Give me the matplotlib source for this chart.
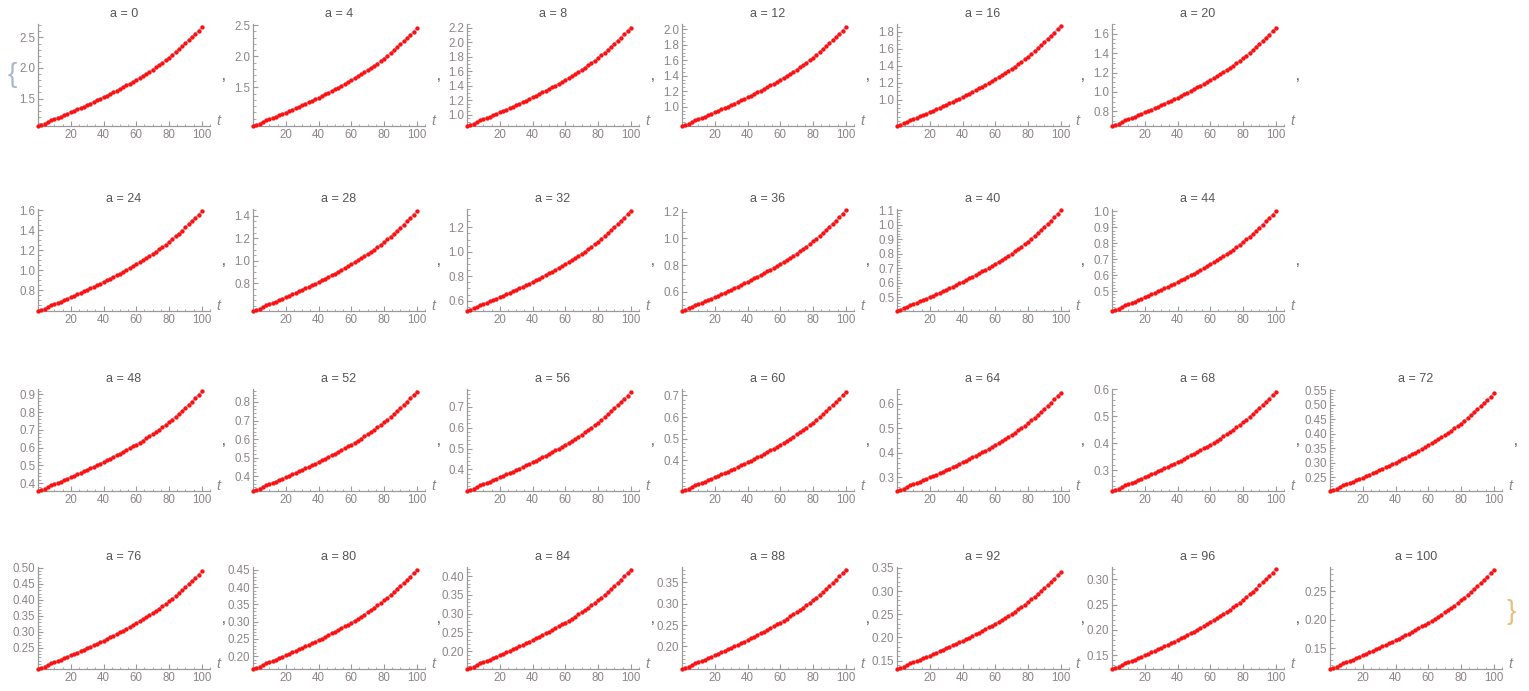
import numpy as np
import matplotlib
matplotlib.use('Agg')
import matplotlib.pyplot as plt
from matplotlib.ticker import MultipleLocator, FixedLocator

# panel parameter a and values
a_vals  = [0, 4, 8, 12, 16, 20, 24, 28, 32, 36, 40, 44, 48,
           52, 56, 60, 64, 68, 72, 76, 80, 84, 88, 92, 96, 100]
y_start = [1.05, 0.88, 0.845, 0.75, 0.69, 0.65, 0.594, 0.554, 0.515, 0.458, 0.404, 0.375, 0.356,
           0.32, 0.297, 0.258, 0.245, 0.223, 0.202, 0.184, 0.163, 0.153, 0.147, 0.132, 0.123, 0.1135]
y_end   = [2.67, 2.45, 2.20, 2.03, 1.87, 1.66, 1.59, 1.44, 1.335, 1.21, 1.10, 1.00, 0.916,
           0.856, 0.77, 0.716, 0.645, 0.59, 0.54, 0.49, 0.45, 0.417, 0.38, 0.341, 0.32, 0.288]
y_top   = [2.72, 2.52, 2.25, 2.07, 1.89, 1.70, 1.61, 1.46, 1.35, 1.22, 1.11, 1.015, 0.93,
           0.87, 0.785, 0.73, 0.66, 0.60, 0.555, 0.503, 0.458, 0.424, 0.386, 0.352, 0.324, 0.293]
# labelled y ticks: lowest, highest, step
tick_lo   = [1.5, 1.5, 1.0, 1.0, 1.0, 0.8, 0.8, 0.8, 0.6, 0.6, 0.5, 0.5, 0.4,
             0.4, 0.4, 0.4, 0.3, 0.3, 0.25, 0.25, 0.20, 0.20, 0.20, 0.15, 0.15, 0.15]
tick_hi   = [2.5, 2.5, 2.2, 2.0, 1.8, 1.6, 1.6, 1.4, 1.2, 1.2, 1.1, 1.0, 0.9,
             0.8, 0.7, 0.7, 0.6, 0.6, 0.55, 0.50, 0.45, 0.40, 0.35, 0.35, 0.30, 0.25]
tick_step = [0.5, 0.5, 0.2, 0.2, 0.2, 0.2, 0.2, 0.2, 0.2, 0.2, 0.1, 0.1, 0.1,
             0.1, 0.1, 0.1, 0.1, 0.1, 0.05, 0.05, 0.05, 0.05, 0.05, 0.05, 0.05, 0.05]

# sample times and the common rise (0 at t=0, 1 at t=100) read from the a = 0 panel
t_vals = np.arange(0, 101, 2)
profile = [0.000, 0.011, 0.025, 0.041, 0.058, 0.069,
           0.082, 0.095, 0.110, 0.124, 0.138,
           0.152, 0.167, 0.182, 0.197, 0.212,
           0.227, 0.243, 0.258, 0.274, 0.290,
           0.307, 0.324, 0.341, 0.358, 0.375,
           0.393, 0.411, 0.429, 0.448, 0.467,
           0.487, 0.507, 0.528, 0.549, 0.571,
           0.593, 0.616, 0.640, 0.665, 0.691,
           0.718, 0.746, 0.775, 0.805, 0.836,
           0.867, 0.899, 0.931, 0.965, 1.000]

W, H = 1529, 691
col_left = [38, 253, 467, 682, 897, 1112, 1330]
row_axis = [126, 311, 491, 669]
per_row = [6, 6, 7, 7]
aw, ah = 172, 102

axcol = '#9a9a9a'
labcol = '#8c8486'
fig = plt.figure(figsize=(W/100, H/100), dpi=100)
plt.rcParams['font.family'] = ['Liberation Sans', 'DejaVu Sans']

k = 0
for r, n in enumerate(per_row):
    for c in range(n):
        y0, y1 = y_start[k], y_end[k]
        ax = fig.add_axes([col_left[c]/W, 1 - row_axis[r]/H, aw/W, ah/H])
        yy = y0 + (y1 - y0)*np.array(profile)
        ax.plot(t_vals, yy, color=(0.37, 0.51, 0.71), alpha=0.45, lw=1.8, zorder=2)
        ax.plot(t_vals, yy, 'o', color='#ff1010', ms=3.1, mew=0, zorder=3, clip_on=False)
        ax.set_xlim(0, 105)
        ax.set_ylim(y0, y_top[k])
        for s in ['top', 'right']:
            ax.spines[s].set_visible(False)
        for s in ['left', 'bottom']:
            ax.spines[s].set_color(axcol)
            ax.spines[s].set_linewidth(0.9)
        ax.xaxis.set_major_locator(FixedLocator([20, 40, 60, 80, 100]))
        ax.xaxis.set_minor_locator(MultipleLocator(5))
        st = tick_step[k]
        majors = np.arange(tick_lo[k], tick_hi[k] + st/2, st)
        ax.yaxis.set_major_locator(FixedLocator(majors))
        ax.set_yticklabels([('%.2f' if st < 0.1 else '%.1f') % v for v in majors])
        ax.yaxis.set_minor_locator(MultipleLocator(st/4 if abs(st - 0.2) < 1e-9 else st/5))
        ax.tick_params(which='both', direction='in', color=axcol, labelcolor=labcol,
                       labelsize=8.3, pad=2)
        ax.tick_params(which='major', length=3.5, width=0.8)
        ax.tick_params(which='minor', length=1.8, width=0.6)
        ax.set_title('a = %d' % a_vals[k], fontsize=9, color='#555555', pad=5)
        ax.text(1.035, 0.05, 't', transform=ax.transAxes, fontsize=10.5, style='italic',
                color='#8a8a8a', va='center', ha='left')
        # comma separators as in the notebook output
        if not (r == 3 and c == n - 1):
            fig.text((col_left[c] + 186)/W, 1 - (row_axis[r] - 50)/H, ',',
                     fontsize=10, color='#444444', ha='center', va='center')
        k += 1

fig.text(12/W, 1 - 75/H, '{', fontsize=20, color='#a9b8cc', ha='center', va='center')
fig.text(1511/W, 1 - 612/H, '}', fontsize=20, color='#e8bf7a', ha='center', va='center')

fig.savefig('out.png', dpi=100, facecolor='white')
